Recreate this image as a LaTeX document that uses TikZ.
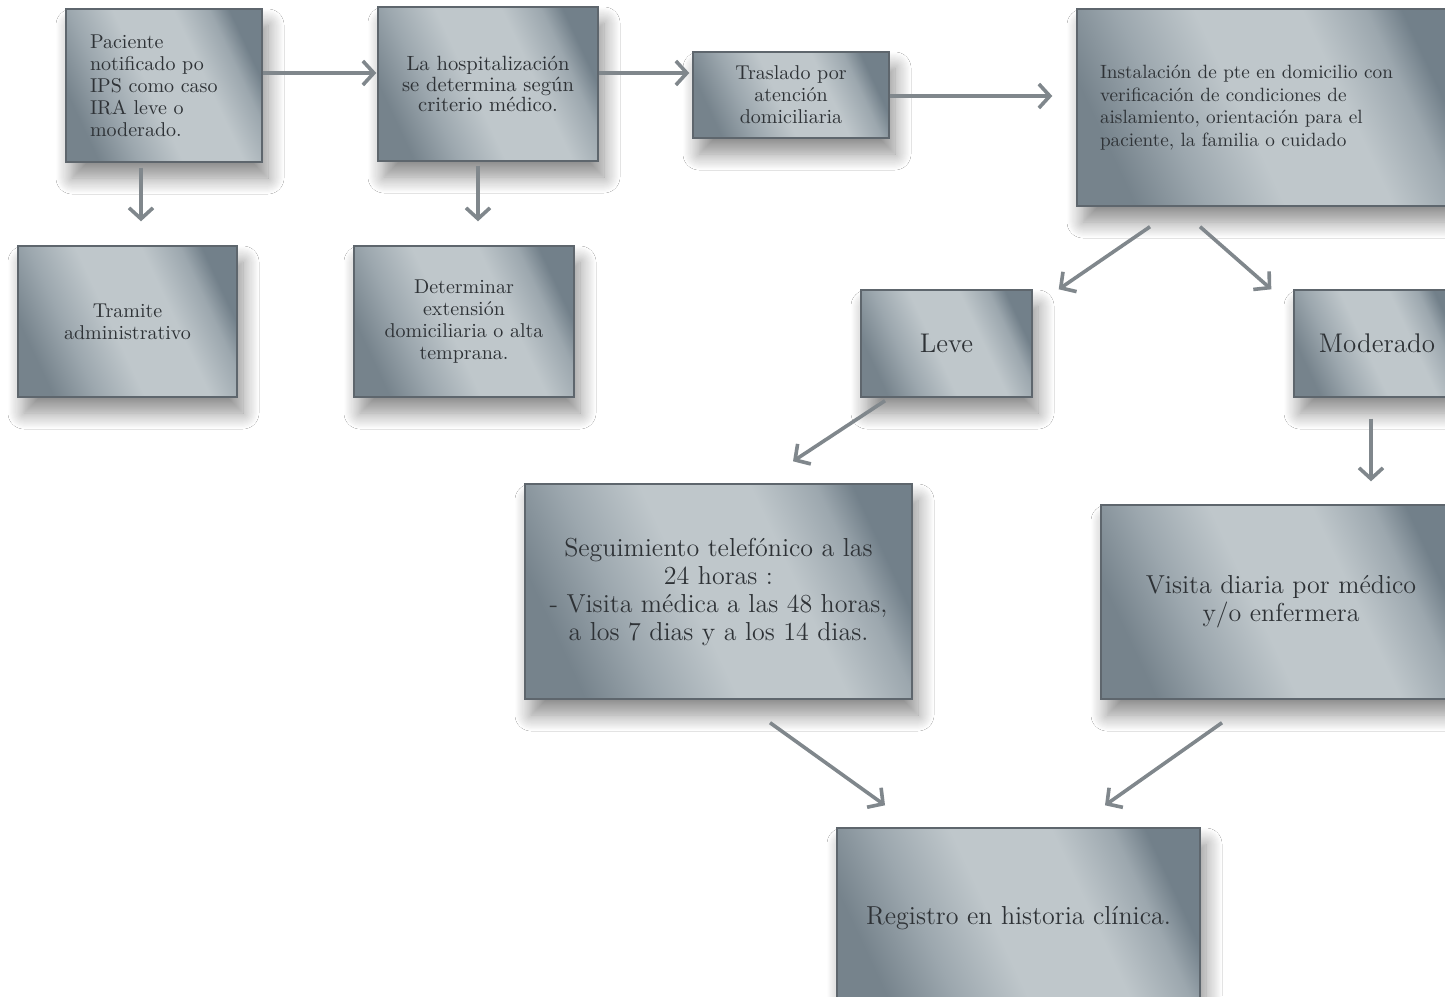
\documentclass[tikz,border=0pt]{standalone}
\usetikzlibrary{arrows.meta,calc,shadows.blur}
\definecolor{bdark}{HTML}{76838C}
\definecolor{bmid}{HTML}{9CA7AE}
\definecolor{blight}{HTML}{BFC7CB}
\definecolor{bdark2}{HTML}{72808A}
\definecolor{bborder}{HTML}{5E666D}
\definecolor{tcol}{HTML}{2E3236}
\definecolor{acol}{HTML}{80878C}
\pgfdeclarehorizontalshading{metal}{100bp}{color(0bp)=(bdark); color(25bp)=(bdark); color(35bp)=(bmid); color(46bp)=(blight); color(61bp)=(blight); color(70bp)=(bmid); color(75bp)=(bdark2); color(100bp)=(bdark2)}
\tikzset{
  box/.style={draw=bborder, line width=0.7pt, shading=metal, shading angle=25,
    blur shadow={shadow xshift=3pt, shadow yshift=-8pt, shadow blur radius=8pt, shadow blur steps=16, shadow opacity=45},
    inner sep=0pt, text=tcol, align=center},
  small/.style={font=\fontsize{10}{11}\selectfont},
  big/.style={font=\fontsize{13}{14}\selectfont},
  arr/.style={draw=acol, line width=1.8pt, -{Straight Barb[length=5.5pt,width=12pt]}},
}
\begin{document}
\begin{tikzpicture}[x=0.5pt,y=-0.5pt]
\fill[white] (0,0) rectangle (1445,996);
\useasboundingbox (0,0) rectangle (1445,996);

\node[box, small, minimum width=98pt, minimum height=76.5pt, text width=74pt, align=left] (pac) at (164,85.5)
  {Paciente\\notificado po\\IPS como caso\\IRA leve o\\moderado.};
\node[box, font=\fontsize{10.3}{10.3}\selectfont, minimum width=110pt, minimum height=77pt] (hosp) at (488,84)
  {La hospitalización\\se determina según\\criterio médico.};
\node[box, small, minimum width=98pt, minimum height=43pt] (tras) at (791,95)
  {Traslado por\\atención\\domiciliaria};
\node[box, font=\fontsize{9.6}{11.25}\selectfont, minimum width=191.5pt, minimum height=98.5pt, text width=168.5pt, align=left] (inst) at (1268.5,107.5)
  {Instalación de pte en domicilio con\\verificación de condiciones de\\aislamiento, orientación para el\\paciente, la familia o cuidado};
\node[box, small, minimum width=109.5pt, minimum height=75.5pt] (tram) at (127.5,321.5)
  {Tramite\\administrativo};
\node[box, small, minimum width=110pt, minimum height=75.5pt] (det) at (464,321.5)
  {Determinar\\extensión\\domiciliaria o alta\\temprana.};
\node[box, font=\fontsize{13.5}{14}\selectfont, minimum width=85.5pt, minimum height=53.5pt] (leve) at (946.5,343.5)
  {Leve};
\node[box, font=\fontsize{13.5}{14}\selectfont, minimum width=83pt, minimum height=53.5pt] (mod) at (1377,343.5)
  {Moderado};
\node[box, big, minimum width=193.5pt, minimum height=107.5pt] (seg) at (718.5,591.5)
  {Seguimiento telefónico a las\\24 horas :\\- Visita médica a las 48 horas,\\a los 7 dias y a los 14 dias.};
\node[box, big, minimum width=180pt, minimum height=97pt] (vis) at (1281,602)
  {Visita diaria por médico\\y/o enfermera};
\node[box, big, minimum width=181.5pt, minimum height=90pt] (reg) at (1018.5,918)
  {Registro en historia clínica.};

\draw[arr] ($(pac.east)+(0,-12.5)$) -- ($(hosp.west)+(-1,-11)$);
\draw[arr] ($(hosp.east)+(0,-11)$) -- ($(tras.west)+(-3,-22)$);
\draw[arr] ($(tras.east)+(0,1)$) -- ($(inst.west)+(-24,-11.5)$);
\draw[arr] ($(pac.south)+(-23,5)$) -- ($(tram.north)+(13.5,-24)$);
\draw[arr] ($(hosp.south)+(-10,4)$) -- ($(det.north)+(14,-24)$);
\draw[arr] ($(inst.south)+(-118.5,20)$) -- ($(leve.north east)+(26,0)$);
\draw[arr] ($(inst.south)+(-68.5,20)$) -- ($(mod.north west)+(-22,0)$);
\draw[arr] ($(leve.south)+(-61.5,3)$) -- ($(seg.north)+(74.5,-22)$);
\draw[arr] ($(mod.south)+(-6,21)$) -- ($(vis.north)+(90,-23)$);
\draw[arr] ($(seg.south)+(51.5,23)$) -- ($(reg.north)+(-133.5,-22)$);
\draw[arr] ($(vis.south)+(-59,23)$) -- ($(reg.north)+(86.5,-22)$);
\end{tikzpicture}
\end{document}
